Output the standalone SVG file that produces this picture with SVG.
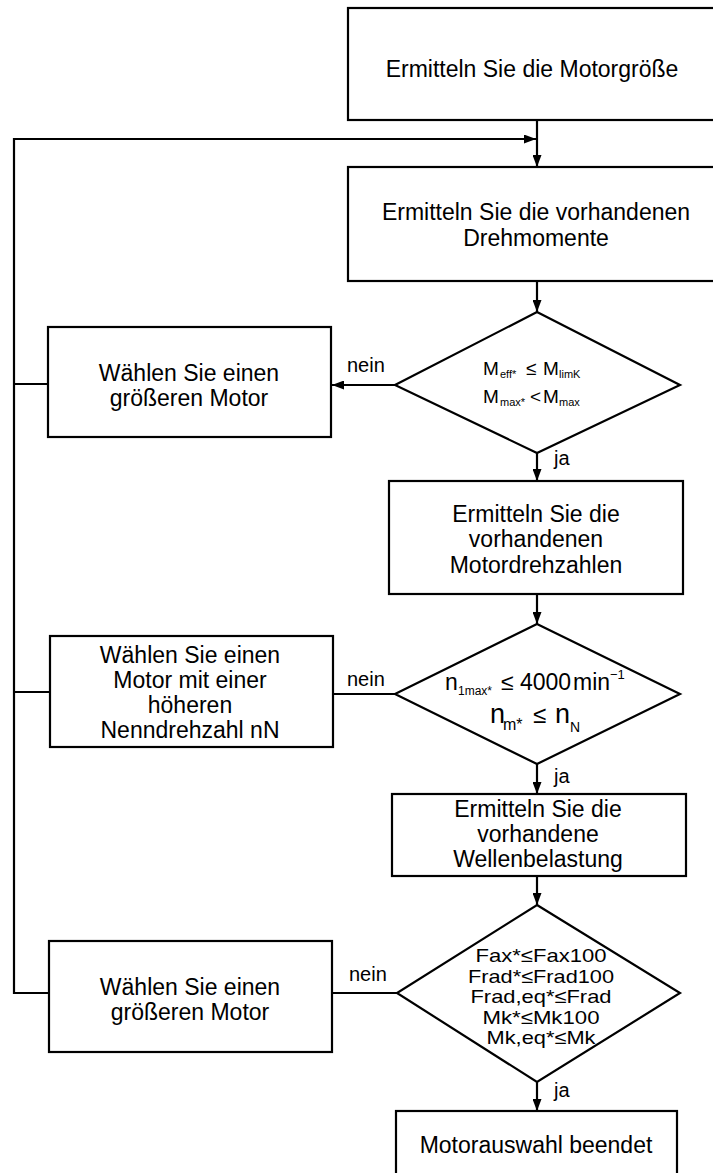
<svg xmlns="http://www.w3.org/2000/svg" width="713" height="1173" viewBox="0 0 713 1173">
<style>
.box{fill:#fff;stroke:#000;stroke-width:2.2}
.dia{fill:#fff;stroke:#000;stroke-width:2.2}
.t{font-family:"Liberation Sans",Arial,sans-serif;font-size:23px;fill:#000;text-anchor:middle}
.lbl{font-family:"Liberation Sans",Arial,sans-serif;font-size:20px;fill:#000}
.f{font-family:"Liberation Sans",Arial,sans-serif;fill:#000}
.c{fill:none;stroke:#000;stroke-width:2.2}
</style>
<defs>
<marker id="ah" viewBox="0 0 12 9" refX="12" refY="4.5" markerWidth="12" markerHeight="9" markerUnits="userSpaceOnUse" orient="auto">
<path d="M0,0 L12,4.5 L0,9 z" fill="#000"/>
</marker>
</defs>
<g id="connectors">
<path class="c" d="M537,120 V167" marker-end="url(#ah)"/>
<path class="c" d="M48,384 H14"/>
<path class="c" d="M50,692 H14"/>
<path class="c" d="M49,993 H14 V139 H536" marker-end="url(#ah)"/>
<path class="c" d="M537,281 V312" marker-end="url(#ah)"/>
<path class="c" d="M395,385 H332" marker-end="url(#ah)"/>
<path class="c" d="M537,453 V481" marker-end="url(#ah)"/>
<path class="c" d="M537,594 V624" marker-end="url(#ah)"/>
<path class="c" d="M395,694 H333"/>
<path class="c" d="M537,764 V794" marker-end="url(#ah)"/>
<path class="c" d="M537,876 V905" marker-end="url(#ah)"/>
<path class="c" d="M397,993 H332"/>
<path class="c" d="M537,1082 V1111" marker-end="url(#ah)"/>
<text class="lbl" x="347" y="372">nein</text>
<text class="lbl" x="347" y="686">nein</text>
<text class="lbl" x="349" y="981">nein</text>
<text class="lbl" x="554" y="465">ja</text>
<text class="lbl" x="554" y="783">ja</text>
<text class="lbl" x="554" y="1097">ja</text>
</g>
<g id="n1">
<rect class="box" x="348" y="8" width="376" height="112"/>
<text class="t" x="532" y="77">Ermitteln Sie die Motorgröße</text>
</g>
<g id="n2">
<rect class="box" x="348" y="167" width="376" height="114"/>
<text class="t" x="536" y="220">Ermitteln Sie die vorhandenen</text>
<text class="t" x="536" y="246">Drehmomente</text>
</g>
<g id="d1">
<polygon class="dia" points="537,312 680,385 537,453 395,385"/>
<text class="f" font-size="19"><tspan x="483" y="375">M</tspan><tspan x="500" y="378" font-size="11">eff*</tspan><tspan x="526" y="375">≤</tspan><tspan x="543" y="375">M</tspan><tspan x="559" y="378" font-size="11">limK</tspan></text>
<text class="f" font-size="19"><tspan x="483" y="403">M</tspan><tspan x="500" y="406" font-size="11">max*</tspan><tspan x="530" y="403">&lt;</tspan><tspan x="543" y="403">M</tspan><tspan x="559" y="406" font-size="11">max</tspan></text>
</g>
<g id="l1">
<rect class="box" x="48" y="327" width="283" height="110"/>
<text class="t" x="189" y="381">Wählen Sie einen</text>
<text class="t" x="189" y="406">größeren Motor</text>
</g>
<g id="n3">
<rect class="box" x="389" y="481" width="294" height="113"/>
<text class="t" x="536" y="522">Ermitteln Sie die</text>
<text class="t" x="536" y="547">vorhandenen</text>
<text class="t" x="536" y="573">Motordrehzahlen</text>
</g>
<g id="d2">
<polygon class="dia" points="537,624 680,694 537,764 395,694"/>
<text class="f" font-size="23"><tspan x="445" y="690">n</tspan><tspan x="458" y="695" font-size="12">1max*</tspan><tspan x="501" y="690">≤</tspan><tspan x="520" y="690">4000</tspan><tspan x="573" y="690">min</tspan><tspan x="610" y="679" font-size="13">−1</tspan></text>
<text class="f" font-size="27"><tspan x="490" y="723">n</tspan><tspan x="503" y="730" font-size="16">m*</tspan><tspan x="533" y="723" font-size="24">≤</tspan><tspan x="555" y="723">n</tspan><tspan x="570" y="732" font-size="14">N</tspan></text>
</g>
<g id="l2">
<rect class="box" x="50" y="636" width="283" height="111"/>
<text class="t" x="190" y="663">Wählen Sie einen</text>
<text class="t" x="190" y="688">Motor mit einer</text>
<text class="t" x="190" y="713">höheren</text>
<text class="t" x="190" y="738">Nenndrehzahl nN</text>
</g>
<g id="n4">
<rect class="box" x="392" y="794" width="294" height="82"/>
<text class="t" x="538" y="817">Ermitteln Sie die</text>
<text class="t" x="538" y="842">vorhandene</text>
<text class="t" x="538" y="867">Wellenbelastung</text>
</g>
<g id="d3">
<polygon class="dia" points="537,905 680,993 537,1082 397,993"/>
<text class="t" x="541" y="962" textLength="131" lengthAdjust="spacingAndGlyphs" style="font-size:19px">Fax*≤Fax100</text>
<text class="t" x="541" y="983" textLength="146" lengthAdjust="spacingAndGlyphs" style="font-size:19px">Frad*≤Frad100</text>
<text class="t" x="541" y="1003" textLength="141" lengthAdjust="spacingAndGlyphs" style="font-size:19px">Frad,eq*≤Frad</text>
<text class="t" x="541" y="1024" textLength="117" lengthAdjust="spacingAndGlyphs" style="font-size:19px">Mk*≤Mk100</text>
<text class="t" x="541" y="1044" textLength="109" lengthAdjust="spacingAndGlyphs" style="font-size:19px">Mk,eq*≤Mk</text>
</g>
<g id="l3">
<rect class="box" x="49" y="941" width="283" height="111"/>
<text class="t" x="190" y="995">Wählen Sie einen</text>
<text class="t" x="190" y="1020">größeren Motor</text>
</g>
<g id="n5">
<rect class="box" x="396" y="1111" width="281" height="80"/>
<text class="t" x="536" y="1153">Motorauswahl beendet</text>
</g>
</svg>
